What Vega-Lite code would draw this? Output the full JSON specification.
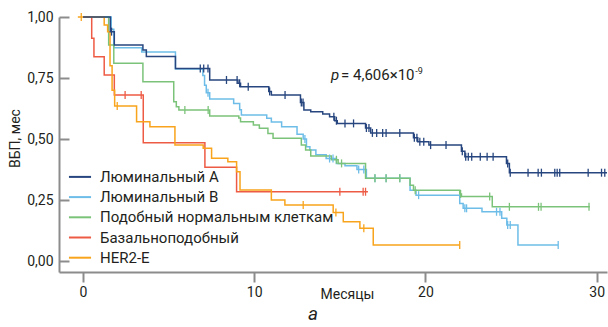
{
  "$schema": "https://vega.github.io/schema/vega-lite/v6.json",
  "width": 548,
  "height": 255,
  "autosize": {"type": "none"},
  "padding": {"left": 59, "top": 17, "right": 1, "bottom": 55},
  "config": {
    "view": {"stroke": null},
    "font": "Roboto",
    "axis": {
      "grid": false,
      "domainColor": "#8c8c8c",
      "domainWidth": 2,
      "tickColor": "#8c8c8c",
      "tickWidth": 2,
      "labelFont": "Roboto",
      "labelFontSize": 14,
      "labelColor": "#231f20",
      "titleFont": "Roboto",
      "titleFontSize": 14,
      "titleFontWeight": "normal",
      "titleColor": "#231f20"
    }
  },
  "title": {
    "text": "а",
    "orient": "bottom",
    "anchor": "middle",
    "dx": -20,
    "offset": 4,
    "fontSize": 19,
    "fontStyle": "italic",
    "fontWeight": "normal",
    "font": "Roboto",
    "color": "#231f20"
  },
  "datasets": {
    "steps": [
      {"g": "Люминальный B", "t": 0, "s": 1},
      {"g": "Люминальный B", "t": 1.65, "s": 0.95},
      {"g": "Люминальный B", "t": 1.8, "s": 0.874},
      {"g": "Люминальный B", "t": 3.43, "s": 0.857},
      {"g": "Люминальный B", "t": 5.4, "s": 0.787},
      {"g": "Люминальный B", "t": 7.0, "s": 0.76},
      {"g": "Люминальный B", "t": 7.1, "s": 0.72},
      {"g": "Люминальный B", "t": 7.2, "s": 0.69},
      {"g": "Люминальный B", "t": 7.4, "s": 0.664},
      {"g": "Люминальный B", "t": 8.8, "s": 0.646},
      {"g": "Люминальный B", "t": 9.15, "s": 0.62},
      {"g": "Люминальный B", "t": 9.25, "s": 0.598},
      {"g": "Люминальный B", "t": 10.73, "s": 0.585},
      {"g": "Люминальный B", "t": 11.0, "s": 0.57},
      {"g": "Люминальный B", "t": 11.6, "s": 0.55},
      {"g": "Люминальный B", "t": 12.5, "s": 0.52},
      {"g": "Люминальный B", "t": 12.86, "s": 0.5},
      {"g": "Люминальный B", "t": 13.05, "s": 0.468},
      {"g": "Люминальный B", "t": 13.25, "s": 0.455},
      {"g": "Люминальный B", "t": 13.6, "s": 0.435},
      {"g": "Люминальный B", "t": 14.2, "s": 0.42},
      {"g": "Люминальный B", "t": 14.8, "s": 0.4},
      {"g": "Люминальный B", "t": 15.3, "s": 0.39},
      {"g": "Люминальный B", "t": 16.0, "s": 0.375},
      {"g": "Люминальный B", "t": 16.55, "s": 0.339},
      {"g": "Люминальный B", "t": 19.1, "s": 0.29},
      {"g": "Люминальный B", "t": 19.45, "s": 0.27},
      {"g": "Люминальный B", "t": 22.0, "s": 0.236},
      {"g": "Люминальный B", "t": 22.2, "s": 0.216},
      {"g": "Люминальный B", "t": 23.3, "s": 0.202},
      {"g": "Люминальный B", "t": 24.45, "s": 0.175},
      {"g": "Люминальный B", "t": 24.75, "s": 0.148},
      {"g": "Люминальный B", "t": 25.4, "s": 0.066},
      {"g": "Люминальный B", "t": 27.75, "s": 0.066},

      {"g": "Подобный нормальным клеткам", "t": 0, "s": 1},
      {"g": "Подобный нормальным клеткам", "t": 1.5, "s": 0.885},
      {"g": "Подобный нормальным клеткам", "t": 1.8, "s": 0.81},
      {"g": "Подобный нормальным клеткам", "t": 3.5, "s": 0.735},
      {"g": "Подобный нормальным клеткам", "t": 5.3, "s": 0.653},
      {"g": "Подобный нормальным клеткам", "t": 5.45, "s": 0.632},
      {"g": "Подобный нормальным клеткам", "t": 5.6, "s": 0.619},
      {"g": "Подобный нормальным клеткам", "t": 7.4, "s": 0.594},
      {"g": "Подобный нормальным клеткам", "t": 9.1, "s": 0.586},
      {"g": "Подобный нормальным клеткам", "t": 9.2, "s": 0.571},
      {"g": "Подобный нормальным клеткам", "t": 9.95, "s": 0.557},
      {"g": "Подобный нормальным клеткам", "t": 10.3, "s": 0.544},
      {"g": "Подобный нормальным клеткам", "t": 10.8, "s": 0.523},
      {"g": "Подобный нормальным клеткам", "t": 11.1, "s": 0.503},
      {"g": "Подобный нормальным клеткам", "t": 12.75, "s": 0.475},
      {"g": "Подобный нормальным клеткам", "t": 13.0, "s": 0.455},
      {"g": "Подобный нормальным клеткам", "t": 13.3, "s": 0.43},
      {"g": "Подобный нормальным клеткам", "t": 14.5, "s": 0.415},
      {"g": "Подобный нормальным клеткам", "t": 14.9, "s": 0.4},
      {"g": "Подобный нормальным клеткам", "t": 16.5, "s": 0.339},
      {"g": "Подобный нормальным клеткам", "t": 19.1, "s": 0.31},
      {"g": "Подобный нормальным клеткам", "t": 19.3, "s": 0.29},
      {"g": "Подобный нормальным клеткам", "t": 22.0, "s": 0.275},
      {"g": "Подобный нормальным клеткам", "t": 22.1, "s": 0.264},
      {"g": "Подобный нормальным клеткам", "t": 23.9, "s": 0.222},
      {"g": "Подобный нормальным клеткам", "t": 29.6, "s": 0.222},

      {"g": "Базальноподобный", "t": 0, "s": 1},
      {"g": "Базальноподобный", "t": 0.51, "s": 0.913},
      {"g": "Базальноподобный", "t": 0.64, "s": 0.837},
      {"g": "Базальноподобный", "t": 1.24, "s": 0.762},
      {"g": "Базальноподобный", "t": 1.83, "s": 0.68},
      {"g": "Базальноподобный", "t": 3.52, "s": 0.485},
      {"g": "Базальноподобный", "t": 7.12, "s": 0.384},
      {"g": "Базальноподобный", "t": 8.97, "s": 0.284},
      {"g": "Базальноподобный", "t": 16.64, "s": 0.284},

      {"g": "HER2-E", "t": -0.3, "s": 1},
      {"g": "HER2-E", "t": 1.24, "s": 0.967},
      {"g": "HER2-E", "t": 1.44, "s": 0.94},
      {"g": "HER2-E", "t": 1.58, "s": 0.8},
      {"g": "HER2-E", "t": 1.7, "s": 0.7},
      {"g": "HER2-E", "t": 1.85, "s": 0.635},
      {"g": "HER2-E", "t": 3.13, "s": 0.571},
      {"g": "HER2-E", "t": 3.91, "s": 0.55},
      {"g": "HER2-E", "t": 5.37, "s": 0.475},
      {"g": "HER2-E", "t": 7.02, "s": 0.462},
      {"g": "HER2-E", "t": 7.51, "s": 0.421},
      {"g": "HER2-E", "t": 8.46, "s": 0.407},
      {"g": "HER2-E", "t": 8.97, "s": 0.366},
      {"g": "HER2-E", "t": 9.17, "s": 0.291},
      {"g": "HER2-E", "t": 11.0, "s": 0.25},
      {"g": "HER2-E", "t": 11.79, "s": 0.23},
      {"g": "HER2-E", "t": 14.61, "s": 0.199},
      {"g": "HER2-E", "t": 15.2, "s": 0.161},
      {"g": "HER2-E", "t": 16.17, "s": 0.134},
      {"g": "HER2-E", "t": 16.95, "s": 0.066},
      {"g": "HER2-E", "t": 22.0, "s": 0.066},

      {"g": "Люминальный A", "t": 0, "s": 1},
      {"g": "Люминальный A", "t": 1.6, "s": 0.94},
      {"g": "Люминальный A", "t": 1.83, "s": 0.885},
      {"g": "Люминальный A", "t": 3.5, "s": 0.865},
      {"g": "Люминальный A", "t": 3.7, "s": 0.838},
      {"g": "Люминальный A", "t": 5.4, "s": 0.789},
      {"g": "Люминальный A", "t": 7.4, "s": 0.742},
      {"g": "Люминальный A", "t": 9.05, "s": 0.728},
      {"g": "Люминальный A", "t": 9.2, "s": 0.714},
      {"g": "Люминальный A", "t": 10.85, "s": 0.695},
      {"g": "Люминальный A", "t": 11.0, "s": 0.68},
      {"g": "Люминальный A", "t": 12.7, "s": 0.65},
      {"g": "Люминальный A", "t": 12.9, "s": 0.619},
      {"g": "Люминальный A", "t": 13.3, "s": 0.612},
      {"g": "Люминальный A", "t": 14.0, "s": 0.603},
      {"g": "Люминальный A", "t": 14.4, "s": 0.591},
      {"g": "Люминальный A", "t": 14.7, "s": 0.575},
      {"g": "Люминальный A", "t": 14.85, "s": 0.564},
      {"g": "Люминальный A", "t": 16.5, "s": 0.545},
      {"g": "Люминальный A", "t": 16.8, "s": 0.525},
      {"g": "Люминальный A", "t": 19.3, "s": 0.505},
      {"g": "Люминальный A", "t": 19.55, "s": 0.489},
      {"g": "Люминальный A", "t": 20.2, "s": 0.475},
      {"g": "Люминальный A", "t": 22.1, "s": 0.45},
      {"g": "Люминальный A", "t": 22.3, "s": 0.427},
      {"g": "Люминальный A", "t": 24.73, "s": 0.4},
      {"g": "Люминальный A", "t": 24.9, "s": 0.362},
      {"g": "Люминальный A", "t": 30.6, "s": 0.362}
    ],
    "censors": [
      {"g": "Люминальный B", "t": 7.3, "s": 0.69},
      {"g": "Люминальный B", "t": 12.96, "s": 0.5},
      {"g": "Люминальный B", "t": 14.4, "s": 0.42},
      {"g": "Люминальный B", "t": 14.6, "s": 0.42},
      {"g": "Люминальный B", "t": 16.1, "s": 0.375},
      {"g": "Люминальный B", "t": 16.4, "s": 0.375},
      {"g": "Люминальный B", "t": 17.05, "s": 0.339},
      {"g": "Люминальный B", "t": 17.7, "s": 0.339},
      {"g": "Люминальный B", "t": 18.5, "s": 0.339},
      {"g": "Люминальный B", "t": 19.6, "s": 0.27},
      {"g": "Люминальный B", "t": 22.3, "s": 0.216},
      {"g": "Люминальный B", "t": 22.4, "s": 0.216},
      {"g": "Люминальный B", "t": 24.15, "s": 0.202},
      {"g": "Люминальный B", "t": 24.35, "s": 0.202},
      {"g": "Люминальный B", "t": 24.8, "s": 0.148},
      {"g": "Люминальный B", "t": 24.95, "s": 0.148},
      {"g": "Люминальный B", "t": 27.75, "s": 0.066},

      {"g": "Подобный нормальным клеткам", "t": 5.95, "s": 0.619},
      {"g": "Подобный нормальным клеткам", "t": 7.31, "s": 0.619},
      {"g": "Подобный нормальным клеткам", "t": 14.8, "s": 0.415},
      {"g": "Подобный нормальным клеткам", "t": 15.1, "s": 0.4},
      {"g": "Подобный нормальным клеткам", "t": 17.05, "s": 0.339},
      {"g": "Подобный нормальным клеткам", "t": 17.7, "s": 0.339},
      {"g": "Подобный нормальным клеткам", "t": 18.5, "s": 0.339},
      {"g": "Подобный нормальным клеткам", "t": 19.4, "s": 0.29},
      {"g": "Подобный нормальным клеткам", "t": 22.05, "s": 0.275},
      {"g": "Подобный нормальным клеткам", "t": 23.75, "s": 0.264},
      {"g": "Подобный нормальным клеткам", "t": 24.9, "s": 0.222},
      {"g": "Подобный нормальным клеткам", "t": 26.6, "s": 0.222},
      {"g": "Подобный нормальным клеткам", "t": 26.75, "s": 0.222},
      {"g": "Подобный нормальным клеткам", "t": 29.55, "s": 0.222},

      {"g": "Базальноподобный", "t": 2.46, "s": 0.68},
      {"g": "Базальноподобный", "t": 3.4, "s": 0.68},
      {"g": "Базальноподобный", "t": 15.0, "s": 0.284},
      {"g": "Базальноподобный", "t": 16.36, "s": 0.284},
      {"g": "Базальноподобный", "t": 16.5, "s": 0.284},

      {"g": "HER2-E", "t": -0.1, "s": 1},
      {"g": "HER2-E", "t": 2.0, "s": 0.635},
      {"g": "HER2-E", "t": 12.86, "s": 0.23},
      {"g": "HER2-E", "t": 14.77, "s": 0.199},
      {"g": "HER2-E", "t": 16.4, "s": 0.134},
      {"g": "HER2-E", "t": 22.0, "s": 0.066},

      {"g": "Люминальный A", "t": 1.67, "s": 0.94},
      {"g": "Люминальный A", "t": 6.85, "s": 0.789},
      {"g": "Люминальный A", "t": 7.05, "s": 0.789},
      {"g": "Люминальный A", "t": 7.3, "s": 0.789},
      {"g": "Люминальный A", "t": 8.38, "s": 0.742},
      {"g": "Люминальный A", "t": 9.0, "s": 0.742},
      {"g": "Люминальный A", "t": 9.15, "s": 0.728},
      {"g": "Люминальный A", "t": 9.65, "s": 0.714},
      {"g": "Люминальный A", "t": 10.9, "s": 0.695},
      {"g": "Люминальный A", "t": 11.8, "s": 0.68},
      {"g": "Люминальный A", "t": 12.75, "s": 0.65},
      {"g": "Люминальный A", "t": 12.85, "s": 0.65},
      {"g": "Люминальный A", "t": 14.65, "s": 0.591},
      {"g": "Люминальный A", "t": 14.8, "s": 0.575},
      {"g": "Люминальный A", "t": 15.3, "s": 0.564},
      {"g": "Люминальный A", "t": 15.8, "s": 0.564},
      {"g": "Люминальный A", "t": 16.55, "s": 0.545},
      {"g": "Люминальный A", "t": 16.7, "s": 0.545},
      {"g": "Люминальный A", "t": 16.9, "s": 0.525},
      {"g": "Люминальный A", "t": 17.15, "s": 0.525},
      {"g": "Люминальный A", "t": 17.5, "s": 0.525},
      {"g": "Люминальный A", "t": 17.7, "s": 0.525},
      {"g": "Люминальный A", "t": 18.5, "s": 0.525},
      {"g": "Люминальный A", "t": 19.35, "s": 0.505},
      {"g": "Люминальный A", "t": 19.5, "s": 0.505},
      {"g": "Люминальный A", "t": 19.67, "s": 0.489},
      {"g": "Люминальный A", "t": 19.9, "s": 0.489},
      {"g": "Люминальный A", "t": 20.3, "s": 0.475},
      {"g": "Люминальный A", "t": 21.2, "s": 0.475},
      {"g": "Люминальный A", "t": 22.15, "s": 0.45},
      {"g": "Люминальный A", "t": 22.35, "s": 0.427},
      {"g": "Люминальный A", "t": 22.5, "s": 0.427},
      {"g": "Люминальный A", "t": 22.7, "s": 0.427},
      {"g": "Люминальный A", "t": 23.2, "s": 0.427},
      {"g": "Люминальный A", "t": 23.6, "s": 0.427},
      {"g": "Люминальный A", "t": 23.95, "s": 0.427},
      {"g": "Люминальный A", "t": 24.8, "s": 0.4},
      {"g": "Люминальный A", "t": 24.95, "s": 0.362},
      {"g": "Люминальный A", "t": 25.99, "s": 0.362},
      {"g": "Люминальный A", "t": 26.58, "s": 0.362},
      {"g": "Люминальный A", "t": 26.77, "s": 0.362},
      {"g": "Люминальный A", "t": 27.55, "s": 0.362},
      {"g": "Люминальный A", "t": 27.69, "s": 0.362},
      {"g": "Люминальный A", "t": 27.84, "s": 0.362},
      {"g": "Люминальный A", "t": 29.5, "s": 0.362},
      {"g": "Люминальный A", "t": 30.28, "s": 0.362},
      {"g": "Люминальный A", "t": 30.47, "s": 0.362}
    ]
  },
  "layer": [
    {
      "data": {"name": "steps"},
      "mark": {"type": "line", "interpolate": "step-after", "strokeWidth": 1.5},
      "encoding": {
        "x": {
          "field": "t", "type": "quantitative",
          "scale": {"domain": [-1.4, 30.6], "nice": false, "zero": false},
          "axis": {
            "values": [0, 10, 20, 30],
            "title": "Месяцы",
            "titleX": 288,
            "titleY": 22,
            "titleBaseline": "middle",
            "tickSize": 10,
            "labelPadding": 3,
            "labelFlush": false
          }
        },
        "y": {
          "field": "s", "type": "quantitative",
          "scale": {"domain": [-0.045, 1], "nice": false, "zero": false},
          "axis": {
            "values": [0, 0.25, 0.5, 0.75, 1],
            "labelExpr": "replace(format(datum.value, '.2f'), '.', ',')",
            "title": "ВБП, мес",
            "titleX": -44,
            "titleY": 121,
            "titleBaseline": "middle",
            "titleAngle": -90,
            "tickSize": -10,
            "labelPadding": 16,
            "labelFlush": false
          }
        },
        "color": {
          "field": "g", "type": "nominal",
          "scale": {
            "domain": ["Люминальный A", "Люминальный B", "Подобный нормальным клеткам", "Базальноподобный", "HER2-E"],
            "range": ["#27467f", "#6dbde8", "#7cc37a", "#ee5b45", "#f8a41c"]
          },
          "legend": {
            "title": null,
            "orient": "none",
            "direction": "vertical",
            "legendX": 11.5,
            "legendY": 150.4,
            "padding": 0,
            "symbolType": "M-1.3,0L1.3,0",
            "symbolSize": 289,
            "symbolStrokeWidth": 2,
            "labelFont": "Roboto",
            "labelFontSize": 15,
            "labelColor": "#231f20",
            "labelOffset": 10.5,
            "rowPadding": 2.2,
            "labelLimit": 400
          }
        }
      }
    },
    {
      "data": {"name": "censors"},
      "mark": {"type": "point", "shape": "M0,-1L0,1", "size": 64, "strokeWidth": 1.3, "filled": false, "opacity": 1},
      "encoding": {
        "x": {"field": "t", "type": "quantitative"},
        "y": {"field": "s", "type": "quantitative"},
        "color": {"field": "g", "type": "nominal", "legend": null}
      }
    },
    {
      "data": {"values": [{"t": 14.48, "s": 0.742, "txt": "p"}]},
      "mark": {"type": "text", "align": "left", "baseline": "alphabetic", "fontSize": 15, "fontStyle": "italic", "font": "Roboto", "color": "#231f20"},
      "encoding": {
        "x": {"field": "t", "type": "quantitative"},
        "y": {"field": "s", "type": "quantitative"},
        "text": {"field": "txt"}
      }
    },
    {
      "data": {"values": [{"t": 15.07, "s": 0.742, "txt": "= 4,606×10"}]},
      "mark": {"type": "text", "align": "left", "baseline": "alphabetic", "fontSize": 15, "font": "Roboto", "color": "#231f20"},
      "encoding": {
        "x": {"field": "t", "type": "quantitative"},
        "y": {"field": "s", "type": "quantitative"},
        "text": {"field": "txt"}
      }
    },
    {
      "data": {"values": [{"t": 19.4, "s": 0.768, "txt": "-9"}]},
      "mark": {"type": "text", "align": "left", "baseline": "alphabetic", "fontSize": 9, "font": "Roboto", "color": "#231f20"},
      "encoding": {
        "x": {"field": "t", "type": "quantitative"},
        "y": {"field": "s", "type": "quantitative"},
        "text": {"field": "txt"}
      }
    }
  ]
}
